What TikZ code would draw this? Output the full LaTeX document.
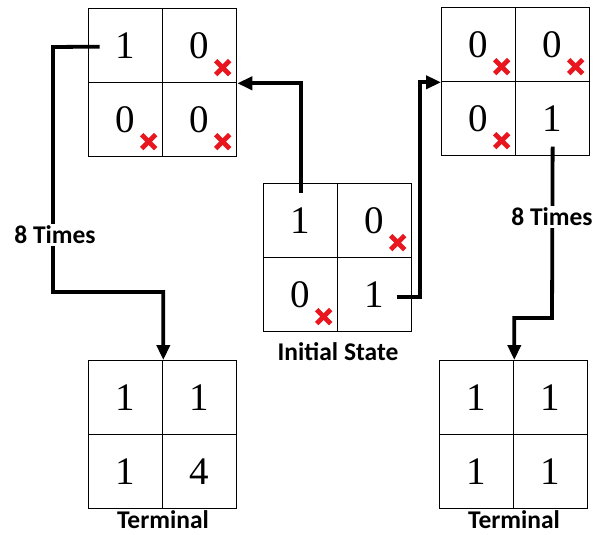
\documentclass[tikz,border=0pt]{standalone}
\usepackage{fontspec}
\setmainfont{Liberation Serif}
\newfontfamily\labelfont{Carlito}
\usetikzlibrary{arrows.meta,calc}

\tikzset{
  cell/.style={draw, line width=1.3pt, minimum size=74pt, inner sep=0pt,
    font=\fontsize{39}{39}\selectfont},
  caption/.style={font=\labelfont\bfseries\fontsize{25.5}{25.5}\selectfont, inner sep=0pt},
  repeatlabel/.style={caption, fill=white, inner sep=2pt},
  link/.style={line width=3.8pt, -{Triangle[length=15pt,width=13pt]}},
  blocked/.style={draw=crossred, line width=4.8pt}
}
\definecolor{crossred}{RGB}{232,22,30}

% a 2x2 board: #1 name, (#2,#3) top-left corner, #4..#7 cell entries
\newcommand\board[7]{%
  \node[cell, anchor=north west] (#1-a) at (#2,#3) {#4};
  \node[cell, anchor=north west] (#1-b) at (#2+74,#3) {#5};
  \node[cell, anchor=north west] (#1-c) at (#2,#3+74) {#6};
  \node[cell, anchor=north west] (#1-d) at (#2+74,#3+74) {#7};
}
% red cross at the lower right of a cell's digit
\newcommand\nix[1]{%
  \draw[blocked] ($(#1)+(16,15)$) -- ($(#1)+(30,29)$);
  \draw[blocked] ($(#1)+(16,29)$) -- ($(#1)+(30,15)$);
}

\begin{document}
\begin{tikzpicture}[x=1pt,y=-1pt]
\useasboundingbox (0,0) rectangle (597,535);

% boards
\board{tl}{88}{8}{1}{0}{0}{0}
\board{in}{263}{183}{1}{0}{0}{1}
\board{tr}{441}{7}{0}{0}{0}{1}
\board{lt}{88}{360}{1}{1}{1}{4}
\board{rt}{439}{360}{1}{1}{1}{1}

\nix{tl-b}\nix{tl-c}\nix{tl-d}
\nix{in-b}\nix{in-c}
\nix{tr-a}\nix{tr-b}\nix{tr-c}

% captions
\node[caption] (capin) at (338,352) {Initial State};
\node[caption] (caplt) at (163,520) {Terminal};
\node[caption] (caprt) at (514,520) {Terminal};

% connector end points
\coordinate (sA) at ($(in-a.north)+(0,10)$);
\coordinate (sB) at ($(in-d.center)+(22,2)$);
\coordinate (bB) at ($(in-d.east)+(8,2)$);
\coordinate (sC) at ($(tl-a.center)+(-26,1)$);
\coordinate (bC1) at (53,47);
\coordinate (bC2) at (53,292);
\coordinate (sD) at ($(tr-d.center)+(0,28)$);
\coordinate (bD) at (552,318);

% moves from the initial state
\draw[link] (sA) |- (tl-b.south east);
\draw[link] (sB) -- (bB) |- (tr-a.south west);

% repeated moves to the terminal states
\draw[link] (sC) -- (bC1) -- (bC2) -| (lt-a.north east);
\draw[link] (sD) -- (bD) -| (rt-a.north east);

\node[repeatlabel] (repl) at (55,235) {8 Times};
\node[repeatlabel] (repr) at (552,217) {8 Times};
\end{tikzpicture}
\end{document}
